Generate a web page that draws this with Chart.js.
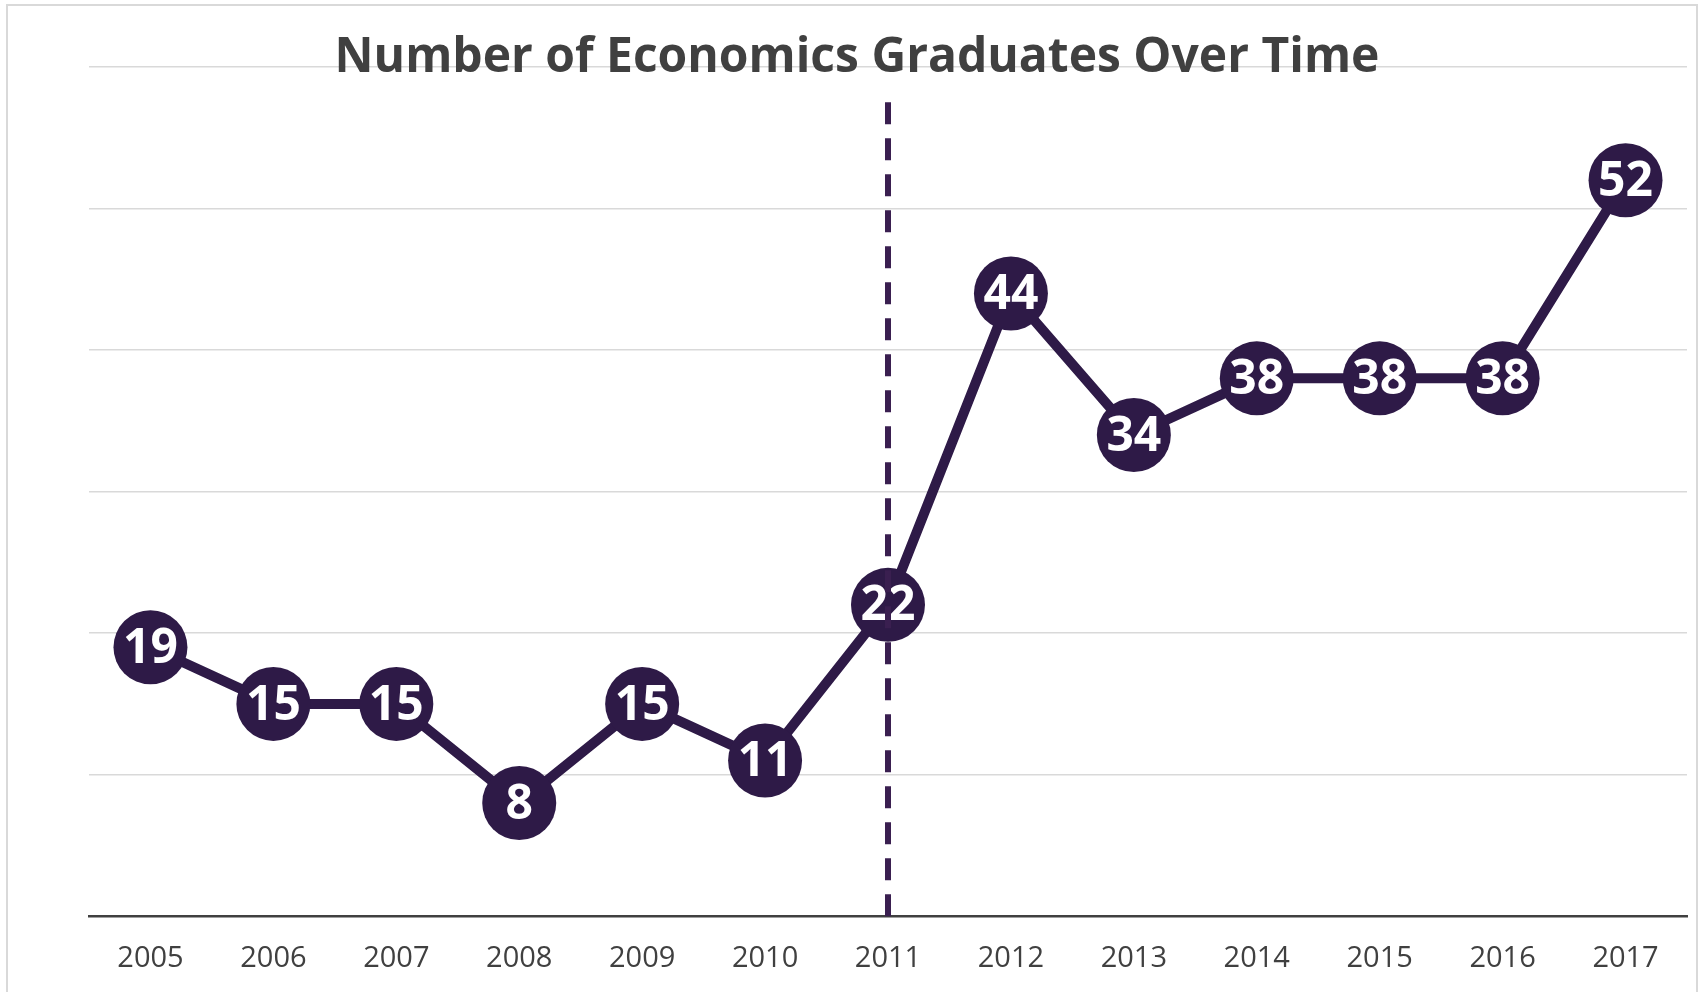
<!DOCTYPE html>
<html>
<head>
<meta charset="utf-8">
<script src="https://cdn.jsdelivr.net/npm/chart.js@4.4.1/dist/chart.umd.min.js"></script>
<style>
    body { margin: 0; background: #fff; overflow: hidden; }
    #frame {
        position: absolute; left: 6px; top: 4px; width: 1692px; height: 1200px;
        box-sizing: border-box; border: 2px solid #d9d9d9;
    }
    #chart { position: absolute; left: 0; top: 0; }
</style>
</head>
<body>
<div id="frame"></div>
<!-- canvas is a bit larger than the window: Chart.js keeps a marker-radius gap at the right edge -->
<canvas id="chart" width="1724" height="1019"></canvas>
<script>
const years = ['2005', '2006', '2007', '2008', '2009', '2010', '2011', '2012', '2013', '2014', '2015', '2016', '2017'];
const graduates = [19, 15, 15, 8, 15, 11, 22, 44, 34, 38, 38, 38, 52];
const markerYear = '2011';
const yTicks = [0, 10, 20, 30, 40, 50, 60];

const purple = '#2e1a47';

// white numbers inside each marker
const pointLabels = {
    id: 'pointLabels',
    afterDatasetsDraw(chart) {
        const ctx = chart.ctx;
        const meta = chart.getDatasetMeta(0);
        ctx.save();
        ctx.fillStyle = '#ffffff';
        ctx.font = 'bold 48px "Open Sans"';
        ctx.textAlign = 'center';
        ctx.textBaseline = 'middle';
        meta.data.forEach((pt, i) => {
            ctx.fillText(String(graduates[i]), pt.x, pt.y + 2);
        });
        ctx.restore();
    }
};

// dashed divider at the marker year, drawn upward from the axis
const markerLine = {
    id: 'markerLine',
    afterDraw(chart) {
        const ctx = chart.ctx;
        const x = chart.scales.x.getPixelForValue(years.indexOf(markerYear));
        ctx.save();
        ctx.strokeStyle = '#3a1f50';
        ctx.lineWidth = 6;
        ctx.setLineDash([22, 14]);
        ctx.beginPath();
        ctx.moveTo(x, chart.chartArea.bottom);
        ctx.lineTo(x, 101);
        ctx.stroke();
        ctx.restore();
    }
};

new Chart(document.getElementById('chart').getContext('2d'), {
    type: 'line',
    data: {
        labels: years,
        datasets: [{
            label: 'Graduates',
            data: graduates,
            borderColor: purple,
            borderWidth: 10,
            backgroundColor: purple,
            pointBackgroundColor: purple,
            pointBorderWidth: 0,
            pointRadius: 37,
            pointHoverRadius: 37,
            tension: 0
        }]
    },
    options: {
        responsive: false,
        animation: false,
        layout: { padding: { left: 1, right: 11, top: 0, bottom: 18 } },
        plugins: {
            legend: { display: false },
            tooltip: { enabled: false },
            title: {
                display: true,
                text: 'Number of Economics Graduates Over Time',
                color: '#404040',
                font: { family: '"Open Sans"', size: 48, weight: 'bold', lineHeight: 1.2 },
                padding: { top: 29.5, bottom: -20.1 }
            }
        },
        scales: {
            x: {
                offset: true,
                grid: { display: false, drawTicks: false },
                border: { display: true, color: '#404040', width: 2.5 },
                ticks: {
                    color: '#404040',
                    padding: 25,
                    font: { family: '"Open Sans"', size: 29 }
                }
            },
            y: {
                min: yTicks[0],
                max: yTicks[yTicks.length - 1],
                afterBuildTicks: (scale) => { scale.ticks = yTicks.map(v => ({ value: v })); },
                afterFit: (scale) => { scale.width = 88; },
                grid: { color: '#d9d9d9', lineWidth: 1.5, drawTicks: false },
                border: { display: false },
                ticks: { display: false }
            }
        }
    },
    plugins: [pointLabels, markerLine]
});
</script>
</body>
</html>
